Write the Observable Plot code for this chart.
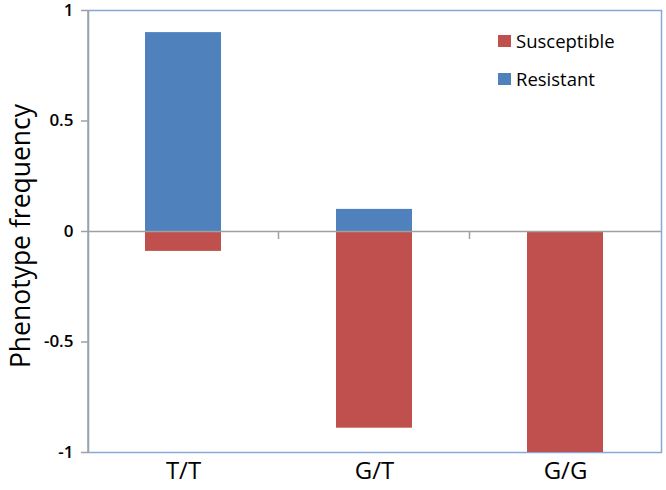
<!DOCTYPE html>
<html><head><meta charset="utf-8">
<script src="https://cdn.jsdelivr.net/npm/d3@7"></script>
<script src="https://cdn.jsdelivr.net/npm/@observablehq/plot@0.6"></script>
<style>
body{margin:0;background:#fff}
#wrap{position:relative;width:666px;height:490px;font-family:"Open Sans",sans-serif;color:#000}
#ylabel{position:absolute;left:20px;top:236px;transform:translate(-50%,-50%) rotate(-90deg);font-size:26.5px;white-space:nowrap;line-height:1}
.leg{position:absolute;left:498px;font-size:18.5px;display:flex;align-items:center;white-space:nowrap;line-height:1}
.leg span.sw{display:inline-block;width:13px;height:12px;margin-right:5px}
</style>
</head><body><div id="wrap"></div>
<script>
const genotypes = ["T/T", "G/T", "G/G"];
const resistant = [0.9, 0.1, 0];
const susceptible = [-0.09, -0.89, -1];
const seriesNames = ["Susceptible", "Resistant"];
const seriesColors = ["#c0504d", "#4f81bd"];
const yTicks = [-1, -0.5, 0, 0.5, 1];
const yLabel = "Phenotype frequency";

const rows = [];
genotypes.forEach((g, i) => {
  rows.push({g, s: "Resistant", v: resistant[i]});
  rows.push({g, s: "Susceptible", v: susceptible[i]});
});

function extras(index, scales, values, dims, context) {
  const ns = "http://www.w3.org/2000/svg";
  const doc = context.document;
  const g = doc.createElementNS(ns, "g");
  const x = scales.x, y = scales.y;
  const bw = typeof x.bandwidth === "function" ? x.bandwidth() : (x.bandwidth || 0);
  const line = (x1, y1, x2, y2) => {
    const l = doc.createElementNS(ns, "line");
    l.setAttribute("x1", x1); l.setAttribute("y1", y1);
    l.setAttribute("x2", x2); l.setAttribute("y2", y2);
    l.setAttribute("stroke", "#a0a0a0"); l.setAttribute("stroke-width", 1.5);
    g.appendChild(l);
  };
  line(dims.marginLeft, y(yTicks[0]), dims.marginLeft, y(yTicks[yTicks.length - 1]));
  for (let i = 0; i < genotypes.length - 1; i++) {
    const c0 = x(genotypes[i]) + bw / 2, c1 = x(genotypes[i + 1]) + bw / 2;
    const bx = (c0 + c1) / 2;
    line(bx, y(0), bx, y(0) + 8);
  }
  return g;
}

const chart = Plot.plot({
  width: 666,
  height: 490,
  marginLeft: 88,
  marginRight: 5,
  marginTop: 10,
  marginBottom: 38,
  style: {fontFamily: '"Open Sans", sans-serif', color: "#000", background: "#fff", overflow: "visible"},
  x: {domain: genotypes, paddingInner: 0.6, paddingOuter: 0.3, label: null},
  y: {domain: [-1, 1], label: null},
  color: {domain: seriesNames, range: seriesColors},
  marks: [
    Plot.frame({stroke: "#86a8d8", strokeWidth: 1.5}),
    Plot.barY(rows, {x: "g", y1: 0, y2: "v", fill: "s"}),
    Plot.ruleY([0], {stroke: "#a0a0a0", strokeWidth: 1.5}),
    extras,
    Plot.axisY({ticks: yTicks, tickFormat: d => `${d}`, tickSize: 7, tickPadding: 8, fontSize: 17, fontWeight: 600, stroke: "#a0a0a0", strokeWidth: 1.5, label: null}),
    Plot.axisX({tickSize: 0, tickPadding: 9, fontSize: 24, label: null})
  ]
});

const wrap = document.getElementById("wrap");
wrap.appendChild(chart);
const yl = document.createElement("div");
yl.id = "ylabel"; yl.textContent = yLabel;
wrap.appendChild(yl);
seriesNames.forEach((name, i) => {
  const d = document.createElement("div");
  d.className = "leg";
  d.style.top = (i === 0 ? 32 : 70) + "px";
  const sw = document.createElement("span");
  sw.className = "sw"; sw.style.background = seriesColors[i];
  d.appendChild(sw);
  d.appendChild(document.createTextNode(name));
  wrap.appendChild(d);
});
</script>
</body></html>
